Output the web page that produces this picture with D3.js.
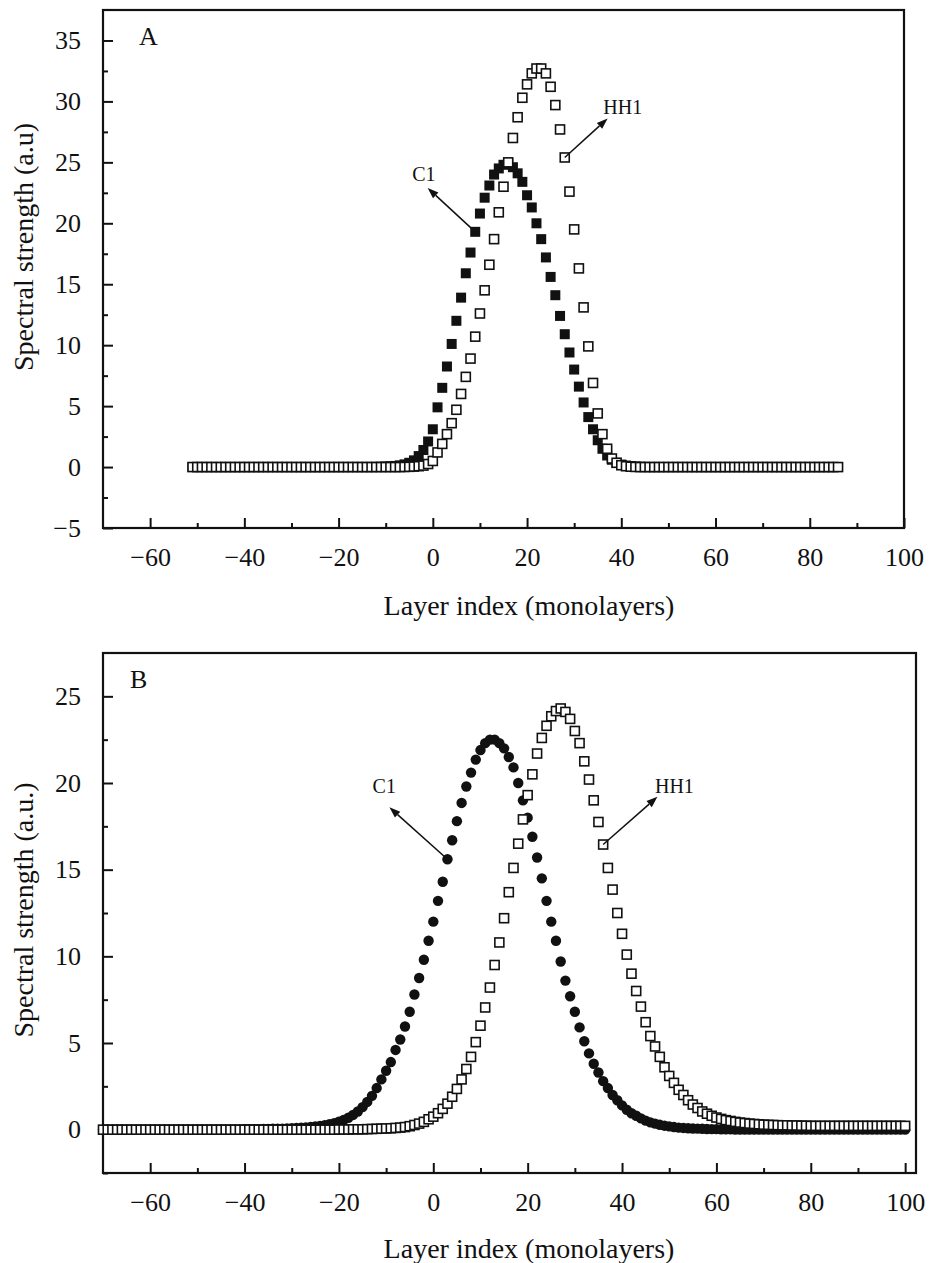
<!DOCTYPE html>
<html><head><meta charset="utf-8">
<script src="https://cdn.jsdelivr.net/npm/d3@7"></script>
<style>
body{margin:0;background:#fff}
svg text{font-family:"Liberation Serif","Times New Roman",serif;fill:#111}
</style>
</head><body>
<svg id="chart" width="930" height="1263"></svg>
<script>
// ---------- DATA ----------
// Panel A: layer index -51 .. 86 (step 1)
const layersA = d3.range(-51, 87);
const c1A = [
 0,0,0,0,0,0,0,0,0,0, 0,0,0,0,0,0,0,0,0,0, 0,0,0,0,0,0,0,0,0,0, 0,0,0,0,0,0,0,0,0,
 0.01,0.02,0.04,0.06,0.09,0.14,0.22,0.35,0.55,0.9,
 1.4,2.1,3.1,4.9,6.5,8.25,10.1,12.0,13.9,15.9,
 17.6,19.3,20.8,22.1,23.1,24.0,24.5,24.8,24.9,24.6,
 24.1,23.4,22.3,21.3,20.0,18.7,17.2,15.6,14.1,12.4,
 10.9,9.4,8.0,6.6,5.3,4.1,3.1,2.2,1.5,0.95,
 0.6,0.35,0.2,0.12,0.07,0.04,0.02,0.01,
 0,0,0,0,0,0,0,0,0,0, 0,0,0,0,0,0,0,0,0,0, 0,0,0,0,0,0,0,0,0,0, 0,0,0,0,0,0,0,0,0,0, 0
];
const hh1A = [
 0,0,0,0,0,0,0,0,0,0, 0,0,0,0,0,0,0,0,0,0, 0,0,0,0,0,0,0,0,0,0, 0,0,0,0,0,0,0,0,0,0, 0,0,0,0,0,
 0.01,0.02,0.04,0.07,0.12,0.25,0.5,1.2,1.9,2.7,
 3.6,4.7,6.0,7.4,8.9,10.7,12.6,14.5,16.6,18.7,
 20.9,23.0,25.0,27.0,28.7,30.3,31.4,32.3,32.7,32.7,
 32.3,31.2,29.7,27.7,25.4,22.6,19.5,16.3,13.1,9.9,
 6.9,4.4,2.7,1.5,0.7,0.35,0.15,0.07,0.03,0.01,
 0,0,0,0,0,0,0,0,0,0, 0,0,0,0,0,0,0,0,0,0, 0,0,0,0,0,0,0,0,0,0, 0,0,0,0,0,0,0,0,0,0, 0,0,0
];
// Panel B: layer index -70 .. 100 (step 1)
const layersB = d3.range(-70, 101);
const c1B = [
 0,0,0,0,0,0,0,0,0,0, 0,0,0,0,0,0,0,0,0,0, 0,0,0,0,0,0,0,0,0,0,
 0.02,0.02,0.03,0.03,0.04,0.04,0.05,0.06,0.06,0.07,
 0.08,0.1,0.11,0.13,0.15,0.18,0.22,0.26,0.31,0.38,
 0.46,0.56,0.69,0.85,1.05,1.3,1.6,1.95,2.4,2.9,
 3.4,3.9,4.6,5.2,5.95,6.8,7.8,8.75,9.8,10.9,
 12.0,13.2,14.3,15.6,16.7,17.8,18.85,19.8,20.6,21.35,
 21.9,22.3,22.5,22.5,22.3,22.0,21.5,20.9,20.0,19.0,
 18.0,16.9,15.7,14.5,13.2,12.0,10.9,9.7,8.6,7.7,
 6.8,5.9,5.1,4.4,3.8,3.3,2.8,2.4,2.0,1.7,
 1.4,1.15,0.95,0.8,0.65,0.52,0.42,0.35,0.28,0.23,
 0.19,0.15,0.12,0.1,0.08,0.07,0.06,0.05,0.04,0.03,
 0.03,0.02,0.02,0.02,0.01,0.01,
 0,0,0,0,0,0,0,0,0,0, 0,0,0,0,0,0,0,0,0,0, 0,0,0,0,0,0,0,0,0,0, 0,0,0,0,0
];
const hh1B = [
 0,0,0,0,0,0,0,0,0,0, 0,0,0,0,0,0,0,0,0,0, 0,0,0,0,0,0,0,0,0,0, 0,0,0,0,0,0,0,0,0,0, 0,0,0,0,0,0,0,0,0,0,
 0.01,0.01,0.01,0.02,0.02,0.02,0.03,0.04,0.05,0.06,
 0.07,0.08,0.1,0.12,0.15,0.2,0.27,0.35,0.45,0.6,
 0.75,0.95,1.2,1.5,1.9,2.35,2.9,3.5,4.2,5.05,
 6.0,7.05,8.2,9.5,10.8,12.2,13.7,15.1,16.5,17.9,
 19.3,20.5,21.7,22.6,23.3,23.85,24.15,24.3,24.1,23.7,
 23.0,22.3,21.25,20.2,19.0,17.75,16.45,15.1,13.85,12.5,
 11.3,10.1,9.0,8.0,7.1,6.2,5.4,4.8,4.2,3.6,
 3.1,2.7,2.3,2.0,1.7,1.45,1.25,1.05,0.92,0.8,
 0.7,0.62,0.55,0.5,0.45,0.41,0.38,0.35,0.33,0.31,
 0.29,0.28,0.27,0.26,0.25,0.25,0.24,0.24,0.23,0.23,
 0.22,0.22,0.22,0.22,0.22,0.22,0.22,0.22,0.22,0.22,
 0.22,0.22,0.22,0.22,0.22,0.22,0.22,0.22,0.22,0.22,0.22
];
const xTicks = [-60,-40,-20,0,20,40,60,80,100];
const xMinorTicks = [-50,-30,-10,10,30,50,70,90];
const yTicksA = [-5,0,5,10,15,20,25,30,35];
const yMinorA = [-2.5,2.5,7.5,12.5,17.5,22.5,27.5,32.5];
const yTicksB = [0,5,10,15,20,25];
const yMinorB = [-2.5,2.5,7.5,12.5,17.5,22.5];
const xTitle = "Layer index (monolayers)";
const yTitleA = "Spectral strength (a.u)";
const yTitleB = "Spectral strength (a.u.)";

// ---------- DRAW ----------
const svg = d3.select("#chart");
const fmt = d => d < 0 ? "\u2212" + Math.abs(d) : String(d);

function panel(p) {
  const g = svg.append("g");
  const x = d3.scaleLinear().domain(p.xDomain).range([p.left, p.right]);
  const y = d3.scaleLinear().domain(p.yDomain).range([p.bottom, p.top]);

  // axes (ticks pointing inward)
  const gx1 = g.append("g").attr("transform", `translate(0,${p.bottom})`)
    .call(d3.axisBottom(x).tickValues(xMinorTicks).tickSize(-5).tickSizeOuter(0).tickFormat(""));
  const gx2 = g.append("g").attr("transform", `translate(0,${p.bottom})`)
    .call(d3.axisBottom(x).tickValues(xTicks).tickSize(-10).tickSizeOuter(0).tickPadding(20).tickFormat(fmt));
  const gy1 = g.append("g").attr("transform", `translate(${p.left},0)`)
    .call(d3.axisLeft(y).tickValues(p.yMinor).tickSize(-5).tickSizeOuter(0).tickFormat(""));
  const gy2 = g.append("g").attr("transform", `translate(${p.left},0)`)
    .call(d3.axisLeft(y).tickValues(p.yTicks).tickSize(-10).tickSizeOuter(0).tickPadding(22).tickFormat(fmt));
  [gx1, gx2, gy1, gy2].forEach(a => {
    a.select(".domain").remove();
    a.selectAll(".tick line").attr("stroke", "#111").attr("stroke-width", 2);
    a.selectAll(".tick text").attr("font-size", 26).attr("font-family", '"Liberation Serif", serif').attr("fill", "#111");
  });

  // frame
  g.append("rect").attr("x", p.left).attr("y", p.top)
    .attr("width", p.right - p.left).attr("height", p.bottom - p.top)
    .attr("fill", "none").attr("stroke", "#111").attr("stroke-width", 2.2);

  // series 1 (C1)
  const d1 = p.xs.map((v, i) => ({x: v, y: p.s1[i]}));
  const d2 = p.xs.map((v, i) => ({x: v, y: p.s2[i]}));
  if (p.s1Shape === "square") {
    g.append("g").selectAll("rect").data(d1).join("rect")
      .attr("x", d => x(d.x) - 5).attr("y", d => y(d.y) - 5)
      .attr("width", 10).attr("height", 10).attr("fill", "#111");
  } else {
    g.append("g").selectAll("circle").data(d1).join("circle")
      .attr("cx", d => x(d.x)).attr("cy", d => y(d.y)).attr("r", 5.2).attr("fill", "#111");
  }
  // series 2 (HH1) open squares
  g.append("g").selectAll("rect").data(d2).join("rect")
    .attr("x", d => x(d.x) - 4.5).attr("y", d => y(d.y) - 4.5)
    .attr("width", 9).attr("height", 9).attr("fill", "#fff")
    .attr("stroke", "#111").attr("stroke-width", 1.6);

  // annotations
  p.notes.forEach(n => {
    const x0 = x(n.ax), y0 = y(n.ay), x1 = x(n.tx), y1 = y(n.ty);
    const ang = Math.atan2(y1 - y0, x1 - x0);
    const L = 11, W = 4;
    const bx = x1 - L * Math.cos(ang), by = y1 - L * Math.sin(ang);
    g.append("line").attr("x1", x0).attr("y1", y0).attr("x2", bx).attr("y2", by)
      .attr("stroke", "#111").attr("stroke-width", 1.5);
    g.append("path").attr("d", `M${x1},${y1}L${bx + W * Math.sin(ang)},${by - W * Math.cos(ang)}L${bx - W * Math.sin(ang)},${by + W * Math.cos(ang)}Z`)
      .attr("fill", "#111");
    g.append("text").attr("x", x(n.lx)).attr("y", y(n.ly)).attr("text-anchor", "middle")
      .attr("font-size", 20).text(n.label);
  });

  // panel letter
  g.append("text").attr("x", p.left + p.letterDx).attr("y", p.top + 35).attr("font-size", 26).text(p.letter);

  // axis titles
  g.append("text").attr("x", 529).attr("y", p.xTitleY).attr("text-anchor", "middle")
    .attr("font-size", 28).text(xTitle);
  g.append("text").attr("transform", `translate(23,${p.yTitleC}) rotate(-90)`)
    .attr("text-anchor", "middle").attr("dy", "0.35em").attr("font-size", 28).text(p.yTitle);
}

panel({
  left: 103, right: 904, top: 10, bottom: 528,
  xDomain: [-70, 100], yDomain: [-5, 37.5],
  yTicks: yTicksA, yMinor: yMinorA,
  xs: layersA, s1: c1A, s2: hh1A, s1Shape: "square",
  notes: [
    {label: "C1", ax: 9, ay: 19.3, tx: -1.1, ty: 22.9, lx: -1.9, ly: 23.5},
    {label: "HH1", ax: 28, ay: 25.4, tx: 37.1, ty: 28.6, lx: 40.3, ly: 29.0}
  ],
  letter: "A", letterDx: 36, xTitleY: 615, yTitle: yTitleA, yTitleC: 247
});

panel({
  left: 103, right: 916, top: 653, bottom: 1173,
  xDomain: [-70, 102.3], yDomain: [-2.5, 27.5],
  yTicks: yTicksB, yMinor: yMinorB,
  xs: layersB, s1: c1B, s2: hh1B, s1Shape: "circle",
  notes: [
    {label: "C1", ax: 3, ay: 15.6, tx: -9.3, ty: 18.6, lx: -10.4, ly: 19.4},
    {label: "HH1", ax: 36, ay: 16.45, tx: 47.5, ty: 19.2, lx: 51.1, ly: 19.4}
  ],
  letter: "B", letterDx: 27, xTitleY: 1258, yTitle: yTitleB, yTitleC: 910
});
</script>
</body></html>
